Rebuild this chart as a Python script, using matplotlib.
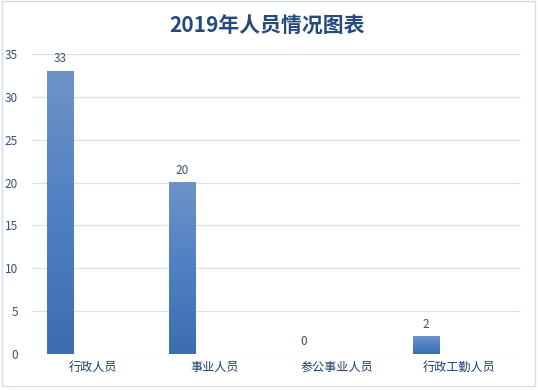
import numpy as np
import matplotlib.pyplot as plt
from matplotlib.patches import Rectangle
from matplotlib.colors import LinearSegmentedColormap

plt.rcParams['font.family'] = ['Noto Sans CJK SC', 'DejaVu Sans']

# data
categories = ['行政人员', '事业人员', '参公事业人员', '行政工勤人员']
values = [33, 20, 0, 2]
yticks = [0, 5, 10, 15, 20, 25, 30, 35]
title = '2019年人员情况图表'

fig = plt.figure(figsize=(5.38, 3.9), dpi=100)
ax = fig.add_axes([32 / 538, 36 / 390, 488 / 538, 300 / 390])

x = np.arange(len(categories))
offset = -0.27
width = 0.22
bars = ax.bar(x + offset, values, width=width, color='none', edgecolor='none', zorder=3)

# vertical gradient for each bar (darker bottom -> lighter top)
grad = np.linspace(0, 1, 256).reshape(-1, 1)
cmap = LinearSegmentedColormap.from_list('bar', ['#3c6db1', '#4f80c4', '#6e93c8'])
for b in bars:
    h = b.get_height()
    if h <= 0:
        continue
    x0 = b.get_x()
    ax.imshow(grad, cmap=cmap, origin='lower', aspect='auto',
              extent=[x0, x0 + b.get_width(), 0, h], zorder=3)

# value labels
for xi, v in zip(x + offset, values):
    ax.text(xi, v + 0.7, str(v), ha='center', va='bottom', fontsize=8.5,
            color='#3b4f75', zorder=4)

ax.set_xlim(-0.5, len(categories) - 0.5)
ax.set_ylim(0, 35)
ax.set_yticks(yticks)
ax.set_xticks(x)
ax.set_xticklabels(categories, fontsize=8.7, color='#1f3c6b')
ax.tick_params(axis='y', labelsize=8.5, colors='#3b4f75', length=0, pad=10)
ax.tick_params(axis='x', length=0, pad=5)
ax.grid(axis='y', color='#d6e1ef', linewidth=0.9, zorder=0)
ax.set_axisbelow(True)
for s in ax.spines.values():
    s.set_visible(False)

fig.text(267.5 / 538, 1 - 26 / 390, title, ha='center', va='center',
         fontsize=15, fontweight='bold', color='#244a7e')

# chart border
fig.patches.append(Rectangle((1.5 / 538, 4 / 390), 533 / 538, 385 / 390,
                             transform=fig.transFigure, fill=False,
                             edgecolor='#d3dce8', linewidth=1))

fig.savefig('out.png', dpi=100)
